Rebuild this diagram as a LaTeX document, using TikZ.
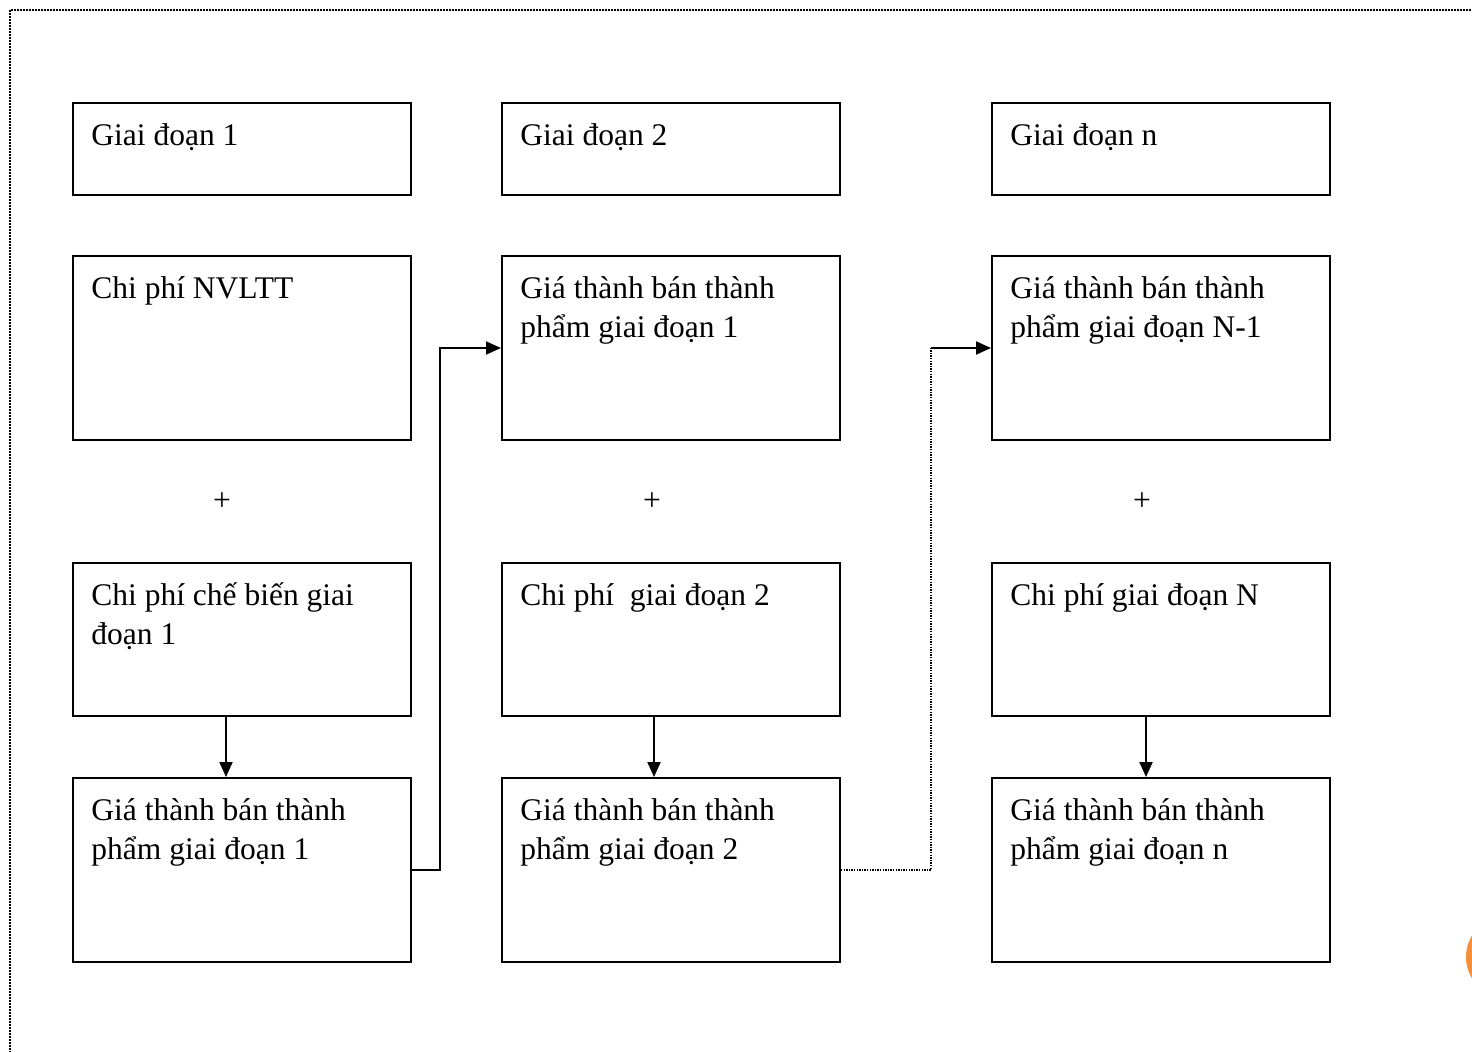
\documentclass[tikz,border=0pt]{standalone}
\usepackage{fontspec}
\setmainfont{Liberation Serif}
\usetikzlibrary{arrows.meta,calc}
\definecolor{tabOrange}{RGB}{247,143,58}
\newcommand\topstrut{\rule{0pt}{17pt}}
\tikzset{
  box/.style={draw,line width=1pt,anchor=north west,inner sep=0pt,minimum width=169pt},
  txt/.style={anchor=north west,inner sep=0pt,align=left,font=\fontsize{15.75}{19.5}\selectfont},
  arr/.style={line width=1pt,-{Triangle[length=7.5pt,width=6.5pt]}},
  dots/.style={line width=0.8pt,dash pattern=on 0.7pt off 0.6pt}
}
\begin{document}
\begin{tikzpicture}[x=0.5pt,y=-0.5pt]
			\useasboundingbox (0,0) rectangle (1472,1051);
			\draw [line width=0.9pt,dash pattern=on 0.8pt off 0.7pt] (10,1080) -- (10,10) -- (1500,10);
			\fill [tabOrange] (1507.5,957) circle (20.75pt);
			% stage headers
			\node[box,minimum height=46pt] (s1) at (72,102) {};
			\node[box,minimum height=46pt] (s2) at (501,102) {};
			\node[box,minimum height=46pt] (sn) at (991,102) {};
			% inputs
			\node[box,minimum height=92pt] (in1) at (72,255) {};
			\node[box,minimum height=92pt] (in2) at (501,255) {};
			\node[box,minimum height=92pt] (inn) at (991,255) {};
			% costs of the stage
			\node[box,minimum height=76.5pt] (add1) at (72,562) {};
			\node[box,minimum height=76.5pt] (add2) at (501,562) {};
			\node[box,minimum height=76.5pt] (addn) at (991,562) {};
			% outputs
			\node[box,minimum height=92pt] (out1) at (72,777) {};
			\node[box,minimum height=92pt] (out2) at (501,777) {};
			\node[box,minimum height=92pt] (outn) at (991,777) {};
			% texts
			\node[txt] (ts1) at ([shift={(19,9)}]s1.north west) {\topstrut Giai đoạn 1};
			\node[txt] (ts2) at ([shift={(19,9)}]s2.north west) {\topstrut Giai đoạn 2};
			\node[txt] (tsn) at ([shift={(19,9)}]sn.north west) {\topstrut Giai đoạn n};
			\node[txt] (tin1) at ([shift={(19,9)}]in1.north west) {\topstrut Chi phí NVLTT};
			\node[txt] (tin2) at ([shift={(19,9)}]in2.north west) {\topstrut Giá thành bán thành\\phẩm giai đoạn 1};
			\node[txt] (tinn) at ([shift={(19,9)}]inn.north west) {\topstrut Giá thành bán thành\\phẩm giai đoạn N-1};
			\node[txt] (tadd1) at ([shift={(19,9)}]add1.north west) {\topstrut Chi phí chế biến giai\\đoạn 1};
			\node[txt] (tadd2) at ([shift={(19,9)}]add2.north west) {\topstrut Chi phí\ \ giai đoạn 2};
			\node[txt] (taddn) at ([shift={(19,9)}]addn.north west) {\topstrut Chi phí giai đoạn N};
			\node[txt] (tout1) at ([shift={(19,9)}]out1.north west) {\topstrut Giá thành bán thành\\phẩm giai đoạn 1};
			\node[txt] (tout2) at ([shift={(19,9)}]out2.north west) {\topstrut Giá thành bán thành\\phẩm giai đoạn 2};
			\node[txt] (toutn) at ([shift={(19,9)}]outn.north west) {\topstrut Giá thành bán thành\\phẩm giai đoạn n};
			% plus signs
			\node[font=\fontsize{15.75}{19.5}\selectfont] (p1) at (222,502) {+};
			\node[font=\fontsize{15.75}{19.5}\selectfont] (p2) at (652,502) {+};
			\node[font=\fontsize{15.75}{19.5}\selectfont] (pn) at (1142,502) {+};
			% arrows
			\coordinate (a1) at (226,715);
			\coordinate (a2) at (654,715);
			\coordinate (an) at (1146,715);
			\draw[arr] (a1) -- (a1 |- out1.north);
			\draw[arr] (a2) -- (a2 |- out2.north);
			\draw[arr] (an) -- (an |- outn.north);
			\coordinate (k1) at (440,600);
			\draw[arr] (out1.east) -| (k1) |- (in2.west);
			\coordinate (k2) at (931,600);
			\draw[dots] (out2.east) -| (k2 |- inn.west);
			\draw[arr] (k2 |- inn.west) -- (inn.west);
\end{tikzpicture}
\end{document}
